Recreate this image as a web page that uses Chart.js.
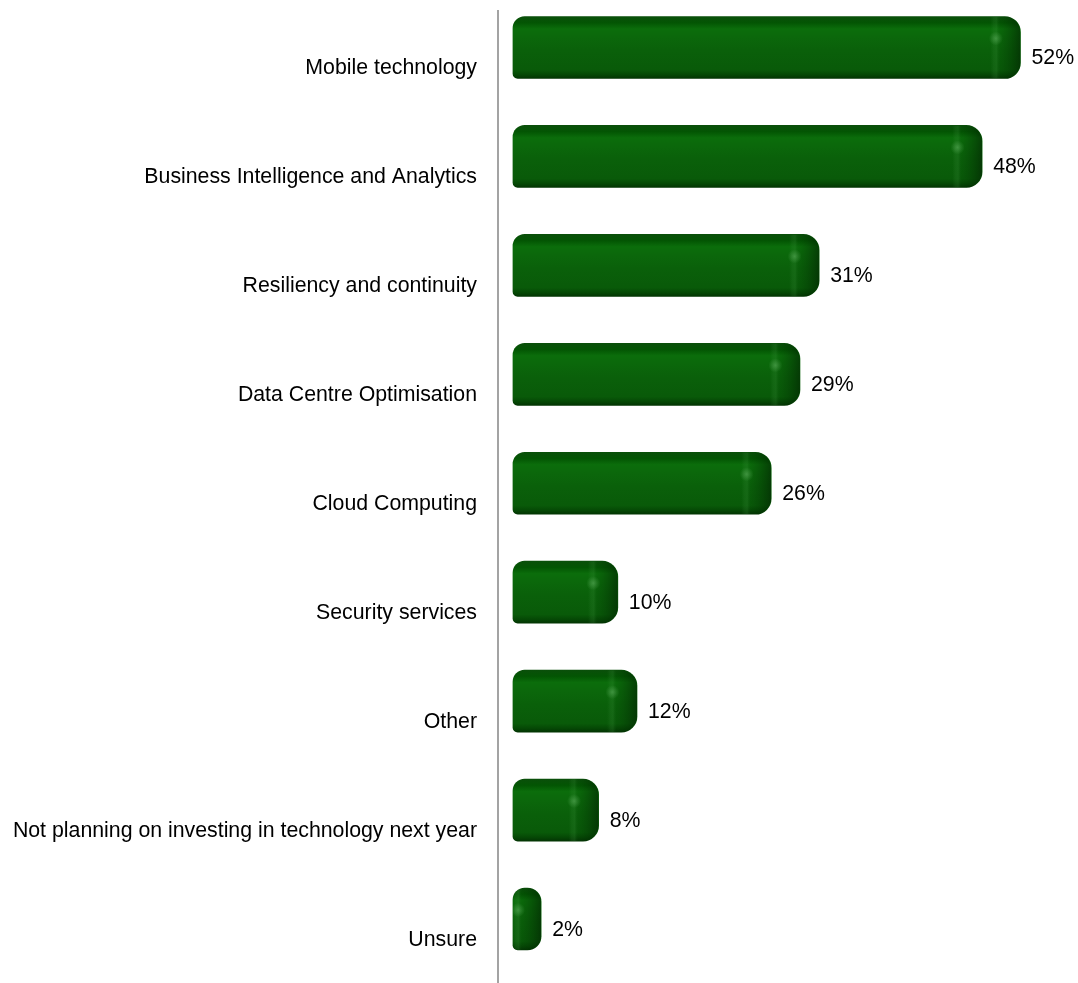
<!DOCTYPE html>
<html>
<head>
<meta charset="utf-8">
<script src="https://cdn.jsdelivr.net/npm/chart.js@4.4.1/dist/chart.umd.min.js"></script>
<style>
  html, body { margin: 0; padding: 0; background: #ffffff; }
  #wrap { position: relative; width: 1078px; height: 983px; }
</style>
</head>
<body>
<div id="wrap"><canvas id="chart"></canvas></div>
<script>
// Planned technology investment areas (share of respondents, %)
const categories = [
  'Mobile technology',
  'Business Intelligence and Analytics',
  'Resiliency and continuity',
  'Data Centre Optimisation',
  'Cloud Computing',
  'Security services',
  'Other',
  'Not planning on investing in technology next year',
  'Unsure'
];
const shares = [52, 48, 31, 29, 26, 10, 12, 8, 2];

const FONT = '"Liberation Sans", Arial, Helvetica, sans-serif';
const FONT_SIZE = 21.3;
const BAR_THICK = 62;
const RADII = { topLeft: 12, topRight: 16, bottomRight: 16, bottomLeft: 5 };

// Vertical shading that gives each bar its rounded, tube-like face
function barFill(ctx) {
  const chart = ctx.chart;
  const yScale = chart.scales && chart.scales.y;
  if (!yScale || ctx.dataIndex == null) return '#0a610a';
  const yc = yScale.getPixelForValue(ctx.dataIndex);
  if (!Number.isFinite(yc)) return '#0a610a';
  const g = chart.ctx.createLinearGradient(0, yc - BAR_THICK / 2, 0, yc + BAR_THICK / 2);
  g.addColorStop(0.00, '#0a4f0a');
  g.addColorStop(0.10, '#035503');
  g.addColorStop(0.20, '#0b6d0b');
  g.addColorStop(0.32, '#0b680b');
  g.addColorStop(0.55, '#0a600a');
  g.addColorStop(0.86, '#095a09');
  g.addColorStop(0.94, '#054805');
  g.addColorStop(1.00, '#033503');
  return g;
}

// Darker rounded end cap with a soft highlight on each bar
const endCap = {
  id: 'endCap',
  afterDatasetsDraw(chart) {
    const c = chart.ctx;
    chart.getDatasetMeta(0).data.forEach((el) => {
      const p = el.getProps(['x', 'y', 'base', 'height'], true);
      if (![p.x, p.y, p.base, p.height].every(Number.isFinite)) return;
      const left = Math.min(p.base, p.x), right = Math.max(p.base, p.x);
      const top = p.y - p.height / 2, h = p.height, w = right - left;
      const lim = Math.min(w / 2, h / 2);
      const r = [RADII.topLeft, RADII.topRight, RADII.bottomRight, RADII.bottomLeft].map(v => Math.min(v, lim));
      c.save();
      c.beginPath();
      c.roundRect(left, top, w, h, r);
      c.clip();
      const capW = Math.min(30, w);
      const gx = c.createLinearGradient(right - capW, 0, right, 0);
      gx.addColorStop(0.00, 'rgba(60,140,60,0)');
      gx.addColorStop(0.10, 'rgba(70,150,70,0.14)');
      gx.addColorStop(0.20, 'rgba(70,150,70,0.20)');
      gx.addColorStop(0.32, 'rgba(0,50,0,0.08)');
      gx.addColorStop(0.60, 'rgba(0,42,0,0.28)');
      gx.addColorStop(1.00, 'rgba(0,25,0,0.55)');
      c.fillStyle = gx;
      c.fillRect(right - capW, top, capW, h);
      const hx = right - capW * 0.82, hy = top + 22;
      const rg = c.createRadialGradient(hx, hy, 0, hx, hy, 7);
      rg.addColorStop(0, 'rgba(110,190,110,0.45)');
      rg.addColorStop(1, 'rgba(110,190,110,0)');
      c.fillStyle = rg;
      c.fillRect(hx - 7, hy - 7, 14, 14);
      c.restore();
    });
  }
};

// Percentage written just past the end of each bar
const valueLabels = {
  id: 'valueLabels',
  afterDatasetsDraw(chart) {
    const c = chart.ctx;
    const ds = chart.data.datasets[0];
    c.save();
    c.font = FONT_SIZE + 'px ' + FONT;
    c.fillStyle = '#000000';
    c.textAlign = 'left';
    c.textBaseline = 'middle';
    chart.getDatasetMeta(0).data.forEach((el, i) => {
      if (!Number.isFinite(el.x)) return;
      c.fillText(ds.data[i] + '%', el.x + 11, el.y + 11);
    });
    c.restore();
  }
};

// Vertical category axis line
const axisLine = {
  id: 'axisLine',
  beforeDatasetsDraw(chart) {
    const c = chart.ctx;
    const x = chart.chartArea.left;
    c.save();
    c.strokeStyle = '#a3a3a3';
    c.lineWidth = 2;
    c.beginPath();
    c.moveTo(x, 10);
    c.lineTo(x, chart.height);
    c.stroke();
    c.restore();
  }
};

const chart = new Chart(document.getElementById('chart'), {
  type: 'bar',
  data: {
    labels: categories,
    datasets: [{
      data: shares,
      base: -0.94,
      backgroundColor: barFill,
      borderWidth: 0,
      borderSkipped: false,
      borderRadius: RADII,
      barThickness: BAR_THICK,
      clip: false
    }]
  },
  options: {
    indexAxis: 'y',
    responsive: true,
    maintainAspectRatio: false,
    animation: false,
    layout: { padding: { top: 47.5, bottom: 64, left: 0, right: 0 } },
    plugins: {
      legend: { display: false },
      tooltip: { enabled: false },
      title: { display: false }
    },
    scales: {
      x: {
        type: 'linear',
        display: false,
        min: -2.5,
        max: 58
      },
      y: {
        type: 'category',
        offset: false,
        grid: { display: false, drawTicks: false },
        border: { display: false },
        ticks: {
          color: '#000000',
          font: { family: FONT, size: FONT_SIZE },
          padding: 21,
          labelOffset: 21,
          autoSkip: false
        },
        afterFit(scale) { scale.width = 498; }
      }
    }
  },
  plugins: [axisLine, endCap, valueLabels]
});
chart.update();
</script>
</body>
</html>
